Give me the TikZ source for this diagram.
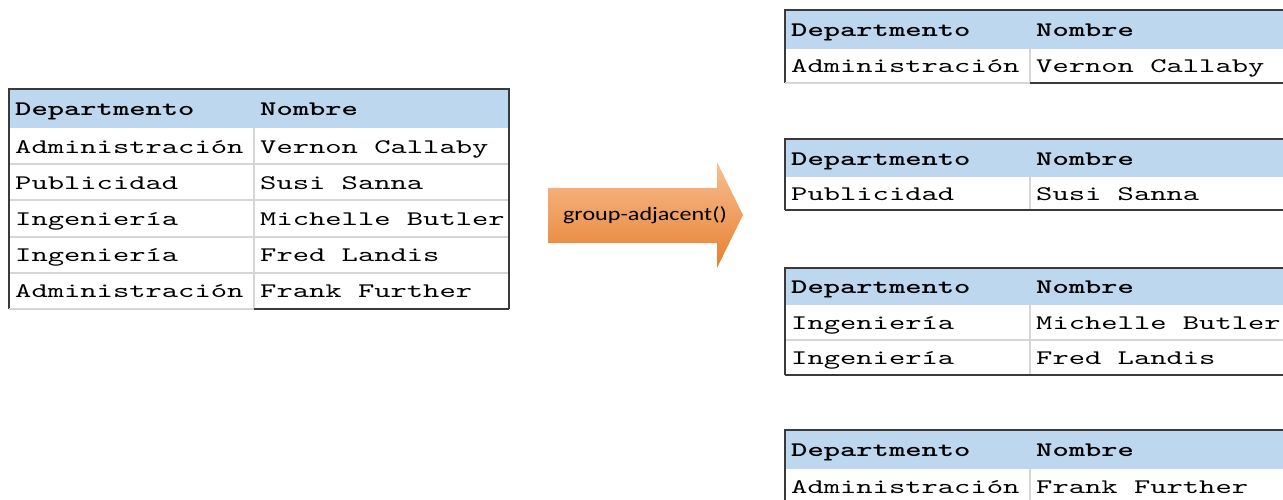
\documentclass[tikz,border=0pt]{standalone}
\usepackage{fontspec}
\usepackage{xcolor}
\usetikzlibrary{math}
\newfontfamily\tabfont[FakeStretch=1.5,BoldFont=lmmonolt10-bold.otf]{lmmono10-regular.otf}
\newfontfamily\flechafont[FakeStretch=1.27]{Carlito}
\definecolor{cabazul}{HTML}{BDD7EE}
\definecolor{borde}{HTML}{3A3A3A}
\definecolor{rejilla}{HTML}{D6D6D6}
\definecolor{naranjaclaro}{HTML}{F8BE92}
\definecolor{naranjaoscuro}{HTML}{E6802E}
\tikzset{
  cab/.style={font=\tabfont\fontsize{20.7}{24}\selectfont\bfseries, anchor=base west, inner sep=0pt},
  celda/.style={font=\tabfont\fontsize{20.7}{24}\selectfont, anchor=base west, inner sep=0pt},
  marco/.style={draw=borde, line width=2pt},
  linea/.style={draw=rejilla, line width=2pt},
}

\begin{document}
\begin{tikzpicture}[x=1pt,y=-1pt]
\useasboundingbox (0,0) rectangle (1283,500);
\clip (0,0) rectangle (1283,500);
\tikzmath{
\ca=245;
\cb=255;
}

% tabla original y los grupos
\foreach \tn/\tx/\ty/\hc/\hf/\nf/\pie/\filas in {
  T/9/89/39/36.2/5/rejilla/{Administración/Vernon Callaby,Publicidad/Susi Sanna,Ingeniería/Michelle Butler,Ingeniería/Fred Landis,Administración/Frank Further},
  G1/785/10/39/34/1/rejilla/{Administración/Vernon Callaby},
  G2/785/139/38/33/1/borde/{Publicidad/Susi Sanna},
  G3/785/268/37/35/2/borde/{Ingeniería/Michelle Butler,Ingeniería/Fred Landis},
  G4/785/430/39/35/1/borde/{Administración/Frank Further}}{
  \pgfmathsetmacro{\yb}{\ty+\hc+\nf*\hf}
  \fill[cabazul] (\tx,\ty) rectangle ++(\ca+\cb,\hc);
  \node[cab] (\tn-c1) at (\tx+6,\ty+\hc/2+7) {Departmento};
  \node[cab] (\tn-c2) at (\tx+\ca+6,\ty+\hc/2+7) {Nombre};
  \foreach \d/\n [count=\i] in \filas {
    \pgfmathsetmacro{\yf}{\ty+\hc+(\i-1)*\hf}
    \ifnum\i>1 \draw[linea] (\tx,\yf) -- ++(\ca+\cb,0); \fi
    \draw[linea] (\tx+\ca,\yf) -- ++(0,\hf);
    \node[celda] (\tn-\i-a) at (\tx+6,\yf+\hf/2+7) {\d};
    \node[celda] (\tn-\i-b) at (\tx+\ca+6,\yf+\hf/2+7) {\n};
  }
  \draw[marco] (\tx,\yb) -- (\tx,\ty) -- (\tx+\ca+\cb,\ty) -- (\tx+\ca+\cb,\yb);
  \draw[line width=2pt, draw=\pie] (\tx,\yb) -- ++(\ca,0);
  \draw[marco] (\tx+\ca,\yb) -- ++(\cb,0);
}

% flecha
\shade[top color=naranjaclaro, bottom color=naranjaoscuro]
  (548,188) -- (717,188) -- (717,162) -- (743,215) -- (717,268) -- (717,243) -- (548,243) -- cycle;
\node[font=\flechafont\fontsize{19}{22}\selectfont, inner sep=0pt] (accion) at (645,215) {group-adjacent()};

\end{tikzpicture}
\end{document}
